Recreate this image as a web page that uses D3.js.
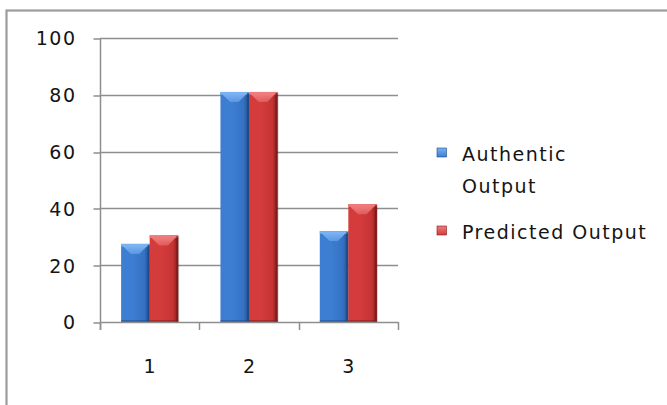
<!DOCTYPE html>
<html>
<head>
<meta charset="utf-8">
<script src="https://cdn.jsdelivr.net/npm/d3@7/dist/d3.min.js"></script>
<style>
  html, body { margin: 0; padding: 0; background: #fff; }
  svg { display: block; }
  text { font-family: "DejaVu Sans", sans-serif; fill: #141414; }
</style>
</head>
<body>
<svg id="chart" width="667" height="405"></svg>
<script>
// Chart data
const categories = ["1", "2", "3"];
const seriesNames = ["Authentic Output", "Predicted Output"];
const authentic = [27.5, 81, 32];
const predicted = [30.5, 81, 41.5];
const yTicks = [0, 20, 40, 60, 80, 100];

const seriesValues = [authentic, predicted];
const palette = [
  { light: "#7ab2f2", base: "#3d7ed2", mid: "#3471c2", dark: "#1d4a86" },
  { light: "#f07c7c", base: "#d43c3c", mid: "#c63333", dark: "#7e1b1b" }
];

const svg = d3.select("#chart");
const defs = svg.append("defs");

// Outer chart frame (continues past the right and bottom edges)
svg.append("rect")
  .attr("x", 6.5).attr("y", 10.5)
  .attr("width", 700).attr("height", 420)
  .attr("fill", "#fff")
  .attr("stroke", "#9c9c9c")
  .attr("stroke-width", 2.2);

const plot = { left: 100, right: 398, top: 38, bottom: 322 };

const x = d3.scaleBand().domain(categories).range([plot.left, plot.right]).paddingInner(0).paddingOuter(0);
const x1 = d3.scaleBand().domain(d3.range(seriesNames.length)).range([0, x.bandwidth()]).paddingInner(0).paddingOuter(0.74);
const y = d3.scaleLinear().domain([0, 100]).range([plot.bottom, plot.top]);

// Gradients for the bevelled bar look
palette.forEach((c, i) => {
  const g = defs.append("linearGradient").attr("id", "body" + i)
    .attr("x1", 0).attr("x2", 1).attr("y1", 0).attr("y2", 0);
  g.append("stop").attr("offset", "0%").attr("stop-color", c.base);
  g.append("stop").attr("offset", "40%").attr("stop-color", c.base);
  g.append("stop").attr("offset", "82%").attr("stop-color", c.mid);
  g.append("stop").attr("offset", "100%").attr("stop-color", c.dark);

  const t = defs.append("linearGradient").attr("id", "cap" + i)
    .attr("x1", 0).attr("x2", 0).attr("y1", 0).attr("y2", 1);
  t.append("stop").attr("offset", "0%").attr("stop-color", c.light).attr("stop-opacity", 1);
  t.append("stop").attr("offset", "100%").attr("stop-color", c.light).attr("stop-opacity", 0.5);

  const s = defs.append("linearGradient").attr("id", "sw" + i)
    .attr("x1", 0).attr("x2", 0).attr("y1", 0).attr("y2", 1);
  s.append("stop").attr("offset", "0%").attr("stop-color", c.light);
  s.append("stop").attr("offset", "100%").attr("stop-color", c.base);
});

// Horizontal gridlines
svg.append("g")
  .selectAll("line")
  .data(yTicks.filter(d => d > 0))
  .join("line")
  .attr("x1", plot.left).attr("x2", plot.right)
  .attr("y1", d => Math.round(y(d)) + 0.5).attr("y2", d => Math.round(y(d)) + 0.5)
  .attr("stroke", "#8e8e8e").attr("stroke-width", 1.5);

// Bars
const groups = svg.append("g")
  .selectAll("g")
  .data(categories)
  .join("g")
  .attr("transform", d => `translate(${x(d)},0)`);

groups.each(function(cat, ci) {
  const g = d3.select(this);
  seriesValues.forEach((vals, si) => {
    const bx = x1(si), bw = x1.bandwidth();
    const top = y(vals[ci]), bot = y(0);
    const bar = g.append("g");
    // soft shadow on the right
    bar.append("rect")
      .attr("x", bx + 1).attr("y", top + 1)
      .attr("width", bw).attr("height", bot - top - 1)
      .attr("fill", "#000").attr("opacity", 0.18);
    bar.append("rect")
      .attr("x", bx).attr("y", top)
      .attr("width", bw).attr("height", bot - top)
      .attr("fill", `url(#body${si})`);
    // light top bevel
    bar.append("rect")
      .attr("x", bx).attr("y", top)
      .attr("width", bw).attr("height", 2.5)
      .attr("fill", palette[si].light);
    bar.append("polygon")
      .attr("points", [
        [bx + 1.5, top + 2], [bx + bw - 2.5, top + 2],
        [bx + bw * 0.64, top + 10], [bx + bw * 0.34, top + 10]
      ].map(p => p.join(",")).join(" "))
      .attr("fill", `url(#cap${si})`);
    // dark right edge
    bar.append("rect")
      .attr("x", bx + bw - 2).attr("y", top + 1)
      .attr("width", 2).attr("height", bot - top - 1)
      .attr("fill", palette[si].dark).attr("opacity", 0.8);
    // dark bottom edge
    bar.append("rect")
      .attr("x", bx).attr("y", bot - 2)
      .attr("width", bw).attr("height", 2)
      .attr("fill", palette[si].dark).attr("opacity", 0.5);
  });
});

// Y axis
const yAxis = svg.append("g")
  .attr("transform", `translate(${plot.left + 0.5},0)`)
  .call(d3.axisLeft(y).tickValues(yTicks).tickSize(7).tickPadding(17).tickSizeOuter(0));
yAxis.select(".domain").attr("stroke", "#8e8e8e").attr("stroke-width", 1.5)
  .attr("d", `M0,${plot.top}V${plot.bottom + 8}`);
yAxis.selectAll(".tick line").attr("stroke", "#8e8e8e").attr("stroke-width", 1.5)
  .attr("transform", d => `translate(0,${Math.round(y(d)) + 0.5 - y(d)})`);
yAxis.selectAll(".tick text")
  .attr("font-family", "DejaVu Sans").attr("font-size", 19)
  .attr("letter-spacing", 1.5).attr("fill", "#141414")
  .attr("dy", "0.36em");

// X axis
const bounds = categories.map(c => x(c)).concat([x(categories[categories.length - 1]) + x.bandwidth()]);
const xAxis = svg.append("g");
xAxis.append("line")
  .attr("x1", plot.left).attr("x2", plot.right)
  .attr("y1", plot.bottom + 0.5).attr("y2", plot.bottom + 0.5)
  .attr("stroke", "#8e8e8e").attr("stroke-width", 1.5);
xAxis.selectAll("line.tk")
  .data(bounds)
  .join("line").attr("class", "tk")
  .attr("x1", d => Math.round(d) + 0.5).attr("x2", d => Math.round(d) + 0.5)
  .attr("y1", plot.bottom).attr("y2", plot.bottom + 8)
  .attr("stroke", "#8e8e8e").attr("stroke-width", 1.5);
xAxis.selectAll("text")
  .data(categories)
  .join("text")
  .attr("x", d => x(d) + x.bandwidth() / 2)
  .attr("y", 373)
  .attr("text-anchor", "middle")
  .attr("font-size", 19)
  .text(d => d);

// Legend
const legendRows = [
  { lines: ["Authentic", "Output"], y: 161 },
  { lines: ["Predicted Output"], y: 239 }
];
const legend = svg.append("g");
legendRows.forEach((row, i) => {
  legend.append("rect")
    .attr("x", 437).attr("y", row.y - 13)
    .attr("width", 9.5).attr("height", 9)
    .attr("fill", `url(#sw${i})`)
    .attr("stroke", palette[i].dark).attr("stroke-width", 0.6);
  row.lines.forEach((ln, k) => {
    legend.append("text")
      .attr("x", 462).attr("y", row.y + k * 32)
      .attr("font-size", 19)
      .attr("letter-spacing", 1.5)
      .text(ln);
  });
});
</script>
</body>
</html>
